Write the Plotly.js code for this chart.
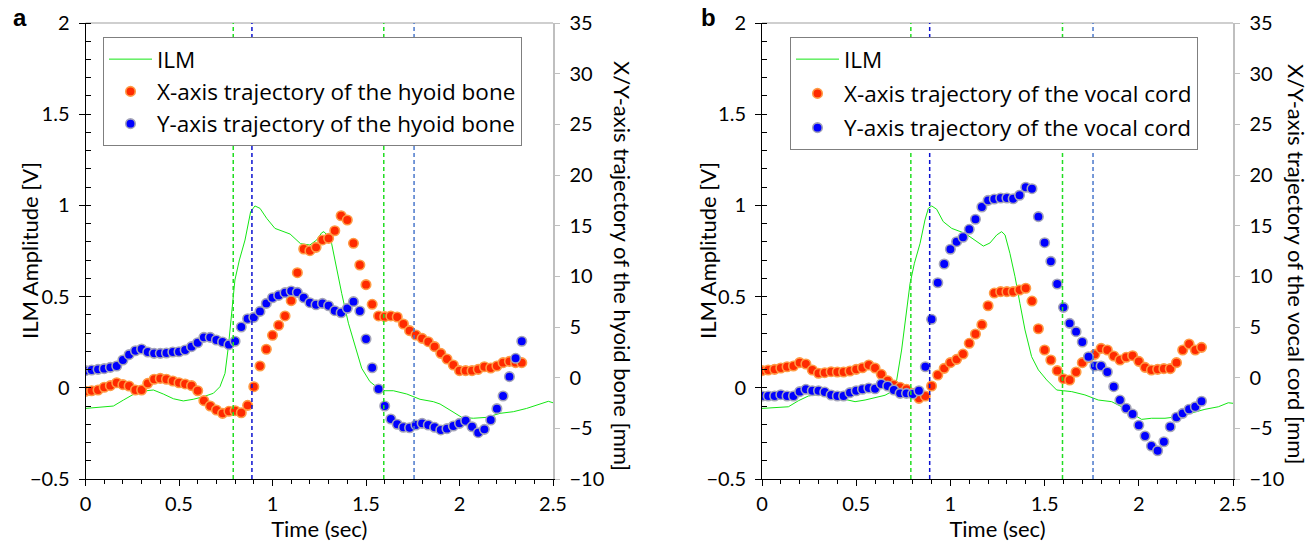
<!DOCTYPE html>
<html>
<head>
<meta charset="utf-8">
<script src="https://cdn.plot.ly/plotly-3.0.1.min.js"></script>
<style>html,body{margin:0;padding:0;background:#fff;}#chart{width:1315px;height:549px;}</style>
</head>
<body>
<div id="chart"></div>
<script>
// Frame times (s), one video frame each
var T = [0,0.033,0.067,0.1,0.133,0.167,0.2,0.233,0.267,0.3,0.333,0.367,0.4,0.433,0.467,0.5,0.533,0.567,0.6,0.633,0.667,0.7,0.733,0.767,0.8,0.833,0.867,0.9,0.933,0.967,1.0,1.033,1.067,1.1,1.133,1.167,1.2,1.233,1.267,1.3,1.333,1.367,1.4,1.433,1.467,1.5,1.533,1.567,1.6,1.633,1.667,1.7,1.733,1.767,1.8,1.833,1.867,1.9,1.933,1.967,2.0,2.033,2.067,2.1,2.133,2.167,2.2,2.233,2.267,2.3,2.333];

// Panel a: hyoid bone (mm)
var hyoidX = [-1.35,-1.29,-1.22,-0.95,-0.79,-0.50,-0.69,-0.82,-1.22,-1.22,-0.56,-0.16,-0.07,-0.16,-0.33,-0.50,-0.62,-0.79,-1.29,-2.27,-2.80,-3.19,-3.52,-3.32,-3.26,-3.46,-2.73,-0.89,1.15,2.80,4.18,5.17,6.09,7.60,10.36,12.70,12.53,12.86,13.59,13.75,14.50,15.98,15.56,13.26,11.12,9.18,7.24,6.09,6.02,6.09,5.99,5.30,4.64,4.21,3.88,3.55,3.06,2.40,1.84,1.25,0.69,0.69,0.69,0.82,1.08,0.95,1.15,1.48,1.61,1.48,1.48];
var hyoidY = [0.69,0.76,0.82,0.89,1.02,1.15,1.74,2.27,2.66,2.83,2.53,2.40,2.40,2.43,2.53,2.56,2.73,3.06,3.45,3.98,3.98,3.72,3.52,3.26,3.59,5.00,5.82,5.95,6.54,7.33,7.89,8.12,8.39,8.55,8.42,7.89,7.40,7.20,7.33,7.10,6.61,6.41,6.84,7.50,6.58,3.82,0.98,-1.12,-2.80,-4.08,-4.60,-4.90,-4.94,-4.67,-4.51,-4.67,-4.90,-5.16,-5.03,-4.77,-4.51,-4.25,-4.84,-5.43,-5.10,-4.18,-3.06,-1.81,0.10,1.91,3.59];
var ilmA_t = [0,0.078,0.149,0.203,0.256,0.309,0.363,0.416,0.470,0.523,0.576,0.630,0.684,0.719,0.746,0.764,0.782,0.799,0.823,0.853,0.883,0.906,0.933,0.969,1.013,1.094,1.150,1.200,1.236,1.263,1.275,1.299,1.316,1.343,1.370,1.406,1.441,1.477,1.521,1.566,1.602,1.646,1.718,1.789,1.860,1.896,1.949,2.012,2.074,2.145,2.217,2.288,2.359,2.430,2.475,2.500];
var ilmA_v = [-0.113,-0.107,-0.100,-0.067,-0.036,-0.018,-0.012,-0.034,-0.060,-0.072,-0.063,-0.049,-0.030,0.006,0.079,0.225,0.408,0.591,0.701,0.810,0.965,0.997,0.984,0.929,0.874,0.843,0.790,0.783,0.810,0.850,0.856,0.828,0.792,0.646,0.518,0.354,0.225,0.107,0.034,-0.003,-0.016,-0.016,-0.034,-0.063,-0.076,-0.089,-0.122,-0.162,-0.167,-0.162,-0.140,-0.131,-0.113,-0.089,-0.074,-0.082];

// Panel b: vocal cord (mm)
var cordX = [0.69,0.76,0.82,0.95,1.08,1.15,1.48,1.35,0.76,0.43,0.49,0.59,0.56,0.56,0.66,0.82,0.98,1.25,0.95,0.33,-0.30,-0.73,-0.95,-1.15,-1.55,-2.04,-1.81,-0.82,0.26,0.92,1.48,1.81,2.33,3.39,4.31,5.23,7.10,8.35,8.49,8.49,8.49,8.65,8.82,7.56,4.83,2.73,1.74,0.69,-0.10,-0.23,0.56,1.48,1.97,2.30,2.89,2.73,2.14,1.74,2.01,2.17,1.61,1.02,0.76,0.82,0.89,0.89,1.48,2.73,3.32,2.73,2.99];
var cordY = [-1.81,-1.81,-1.81,-1.68,-1.81,-1.81,-1.38,-1.15,-1.29,-1.29,-1.42,-1.71,-1.81,-1.81,-1.48,-1.29,-1.15,-1.02,-1.09,-0.62,-0.82,-1.22,-1.55,-1.55,-1.61,-1.29,1.08,5.76,9.37,11.22,12.67,13.42,13.85,14.64,15.63,16.84,17.50,17.63,17.73,17.73,17.66,18.00,18.79,18.65,15.89,13.32,11.48,9.24,6.94,5.36,4.54,3.52,2.07,1.15,1.15,0.56,-0.89,-2.21,-3.02,-3.59,-4.70,-5.76,-6.75,-7.21,-6.32,-4.84,-3.91,-3.52,-3.12,-2.87,-2.33];
var ilmB_t = [0,0.069,0.140,0.193,0.246,0.317,0.387,0.441,0.494,0.547,0.600,0.653,0.688,0.715,0.741,0.768,0.786,0.809,0.839,0.865,0.883,0.901,0.927,0.962,1.007,1.077,1.131,1.175,1.210,1.246,1.272,1.290,1.316,1.343,1.369,1.396,1.431,1.467,1.511,1.564,1.599,1.644,1.714,1.785,1.856,1.909,1.962,2.015,2.068,2.139,2.210,2.281,2.351,2.422,2.475,2.500];
var ilmB_v = [-0.113,-0.107,-0.104,-0.071,-0.045,-0.034,-0.049,-0.063,-0.076,-0.067,-0.052,-0.041,-0.021,0.043,0.207,0.427,0.573,0.683,0.792,0.920,0.984,0.997,0.979,0.911,0.874,0.847,0.810,0.777,0.794,0.838,0.856,0.838,0.737,0.609,0.463,0.317,0.171,0.098,0.043,-0.012,-0.016,-0.021,-0.039,-0.067,-0.076,-0.104,-0.140,-0.173,-0.167,-0.167,-0.158,-0.136,-0.118,-0.104,-0.082,-0.085];

// Event markers (s)
var greenLines = [0.79, 1.595];
var blueLines = [0.89, 1.757];

var labelsA = ['ILM', 'X-axis trajectory of the hyoid bone', 'Y-axis trajectory of the hyoid bone'];
var labelsB = ['ILM', 'X-axis trajectory of the vocal cord', 'Y-axis trajectory of the vocal cord'];
var leftTitle = 'ILM Amplitude [V]';
var rightTitles = ['X/Y-axis trajectory of the hyoid bone [mm]', 'X/Y-axis trajectory of the vocal cord [mm]'];
var panelLetters = ['a', 'b'];

var FONT = 'Lato, "Open Sans", sans-serif';
var LFONT = '"Open Sans", Lato, sans-serif';
var GREEN = '#14E614', RED = '#FF2A00', REDL = '#FF9B45', BLUE = '#0000FF', BLUEL = '#A4A4B8', GRAY = '#BFBFBF';

function mk(name, x, y, xa, ya, color, lineColor, leg, grp) {
  return {type: 'scatter', mode: 'markers', name: name, x: x, y: y, xaxis: xa, yaxis: ya,
    legend: leg, legendgroup: grp,
    marker: {size: 9.5, color: color, line: {color: lineColor, width: 1.6}}};
}
function ln(name, x, y, xa, ya, leg, grp) {
  return {type: 'scatter', mode: 'lines', name: name, x: x, y: y, xaxis: xa, yaxis: ya,
    legend: leg, legendgroup: grp, line: {color: GREEN, width: 1}};
}

var data = [
  ln(labelsA[0], ilmA_t, ilmA_v, 'x', 'y', 'legend', 'a1'),
  mk(labelsA[1], T, hyoidX, 'x', 'y2', RED, REDL, 'legend', 'a2'),
  mk(labelsA[2], T, hyoidY, 'x', 'y2', BLUE, BLUEL, 'legend', 'a3'),
  ln(labelsB[0], ilmB_t, ilmB_v, 'x2', 'y3', 'legend2', 'b1'),
  mk(labelsB[1], T, cordX, 'x2', 'y4', RED, REDL, 'legend2', 'b2'),
  mk(labelsB[2], T, cordY, 'x2', 'y4', BLUE, BLUEL, 'legend2', 'b3')
];

var W = 1315, H = 549;
var yDom = [1 - 479 / H, 1 - 23 / H];
var xDomA = [85.5 / W, 553 / W];
var xDomB = [762 / W, 1233 / W];
var tickF = {family: FONT, size: 20, color: '#000'};
var titleF = {family: FONT, size: 22, color: '#000'};

function xAx(dom, anchor) {
  return {domain: dom, anchor: anchor, range: [0, 2.5], tick0: 0, dtick: 0.5, ticks: 'outside', ticklen: 6,
    tickcolor: '#000', showline: true, linecolor: '#000', linewidth: 1, showgrid: false, zeroline: false,
    minor: {dtick: 0.1, ticks: 'outside', ticklen: 4, tickcolor: '#000', showgrid: false},
    tickfont: tickF, ticklabelstandoff: 1, title: {text: 'Time (sec)', font: titleF, standoff: 2}};
}
function yL(anchor) {
  return {domain: yDom, anchor: anchor, range: [-0.5, 2], tick0: 0, dtick: 0.5, ticks: 'outside', ticklen: 6,
    tickcolor: '#000', showline: true, linecolor: '#000', linewidth: 1, showgrid: false, zeroline: false,
    minor: {dtick: 0.1, ticks: 'inside', ticklen: 5, tickcolor: '#000', showgrid: false},
    tickfont: tickF, ticklabelstandoff: 5};
}
function yR(anchor, over) {
  return {domain: yDom, anchor: anchor, overlaying: over, side: 'right', range: [-10, 35], tick0: 0, dtick: 5,
    ticks: 'outside', ticklen: 5, tickcolor: GRAY, showline: true, linecolor: GRAY, linewidth: 1.5,
    showgrid: false, zeroline: false, tickfont: tickF, ticklabelstandoff: 6};
}

var shapes = [];
[['x', 'y'], ['x2', 'y3']].forEach(function (p) {
  shapes.push({type: 'line', xref: p[0] + ' domain', yref: p[1] + ' domain', x0: 0, x1: 1, y0: 1, y1: 1,
    line: {color: GRAY, width: 1.5}, layer: 'below'});
  greenLines.forEach(function (t) {
    shapes.push({type: 'line', xref: p[0], yref: p[1] + ' domain', x0: t, x1: t, y0: 0, y1: 1,
      line: {color: '#22DD22', width: 1.5, dash: '4px,3px'}});
  });
  blueLines.forEach(function (t, i) {
    shapes.push({type: 'line', xref: p[0], yref: p[1] + ' domain', x0: t, x1: t, y0: 0, y1: 1,
      line: {color: i === 0 ? '#0A10D0' : '#4A78CC', width: 1.5, dash: '4px,3px'}});
  });
});

var legendBase = {xanchor: 'left', yanchor: 'top', bgcolor: '#fff', bordercolor: '#7F7F7F', borderwidth: 1,
  font: {family: LFONT, size: 22.5, color: '#000'}, tracegroupgap: 0, itemwidth: 43};

var letterF = {family: 'Liberation Sans, Arial, sans-serif', size: 24, color: '#000'};
var layout = {
  width: W, height: H, margin: {l: 0, r: 0, t: 0, b: 0}, paper_bgcolor: '#fff', plot_bgcolor: '#fff',
  font: {family: FONT, color: '#000'},
  xaxis: xAx(xDomA, 'y'), yaxis: yL('x'), yaxis2: yR('x', 'y'),
  xaxis2: xAx(xDomB, 'y3'), yaxis3: yL('x2'), yaxis4: yR('x2', 'y3'),
  showlegend: true,
  legend: Object.assign({}, legendBase, {x: 103 / W, y: 1 - 37 / H}),
  legend2: Object.assign({}, legendBase, {x: 790 / W, y: 1 - 37 / H, tracegroupgap: 2}),
  shapes: shapes,
  annotations: [
    {text: '<b>' + panelLetters[0] + '</b>', xref: 'paper', yref: 'paper', x: 20 / W, y: 1 - 17 / H,
      xanchor: 'center', yanchor: 'middle', showarrow: false, font: letterF},
    {text: '<b>' + panelLetters[1] + '</b>', xref: 'paper', yref: 'paper', x: 708 / W, y: 1 - 17 / H,
      xanchor: 'center', yanchor: 'middle', showarrow: false, font: letterF},
    {text: leftTitle, xref: 'paper', yref: 'paper', x: 29 / W, y: 1 - 251 / H, textangle: -90,
      xanchor: 'center', yanchor: 'middle', showarrow: false, font: titleF},
    {text: leftTitle, xref: 'paper', yref: 'paper', x: 707 / W, y: 1 - 251 / H, textangle: -90,
      xanchor: 'center', yanchor: 'middle', showarrow: false, font: titleF},
    {text: rightTitles[0], xref: 'paper', yref: 'paper', x: 622 / W, y: 1 - 266 / H, textangle: 90,
      xanchor: 'center', yanchor: 'middle', showarrow: false, font: titleF},
    {text: rightTitles[1], xref: 'paper', yref: 'paper', x: 1297 / W, y: 1 - 264 / H, textangle: 90,
      xanchor: 'center', yanchor: 'middle', showarrow: false, font: titleF}
  ]
};

Plotly.newPlot('chart', data, layout, {displayModeBar: false, staticPlot: true});
</script>
</body>
</html>
